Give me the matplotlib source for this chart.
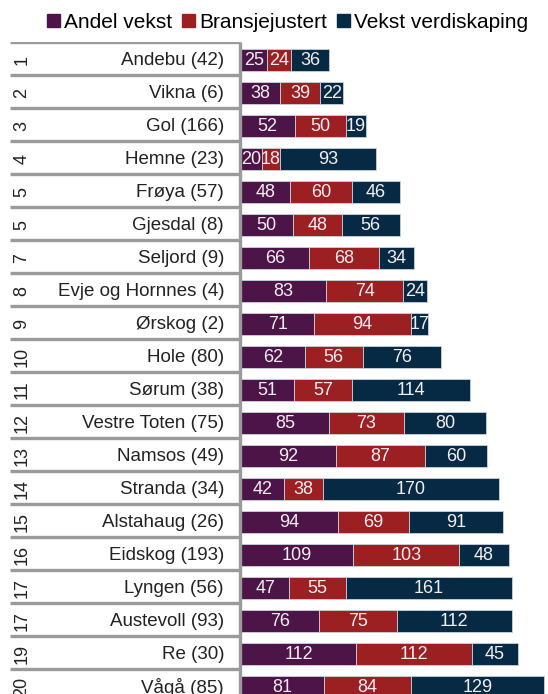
import matplotlib.pyplot as plt
from matplotlib.patches import Patch

plt.rcParams['font.family'] = ['Liberation Sans', 'DejaVu Sans']

ranks = ['1', '2', '3', '4', '5', '5', '7', '8', '9', '10',
         '11', '12', '13', '14', '15', '16', '17', '17', '19', '20']
names = ['Andebu (42)', 'Vikna (6)', 'Gol (166)', 'Hemne (23)', 'Frøya (57)',
         'Gjesdal (8)', 'Seljord (9)', 'Evje og Hornnes (4)', 'Ørskog (2)', 'Hole (80)',
         'Sørum (38)', 'Vestre Toten (75)', 'Namsos (49)', 'Stranda (34)', 'Alstahaug (26)',
         'Eidskog (193)', 'Lyngen (56)', 'Austevoll (93)', 'Re (30)', 'Vågå (85)']
andel = [25, 38, 52, 20, 48, 50, 66, 83, 71, 62, 51, 85, 92, 42, 94, 109, 47, 76, 112, 81]
bransje = [24, 39, 50, 18, 60, 48, 68, 74, 94, 56, 57, 73, 87, 38, 69, 103, 55, 75, 112, 84]
vekst = [36, 22, 19, 93, 46, 56, 34, 24, 17, 76, 114, 80, 60, 170, 91, 48, 161, 112, 45, 129]

series = [('Andel vekst', andel, '#4d1448'),
          ('Bransjejustert', bransje, '#9c1f22'),
          ('Vekst verdiskaping', vekst, '#062a43')]

W, H = 548, 694
fig = plt.figure(figsize=(W / 100, H / 100), dpi=100)

top_px = 42
pitch = 33
ymax = (H - top_px) / pitch
split = 241

ax = fig.add_axes([split / W, 0, 1 - split / W, (H - top_px) / H])
axl = fig.add_axes([0, 0, split / W, (H - top_px) / H])

n = len(names)
ys = [i + 0.55 for i in range(n)]

left = [0] * n
for label, vals, col in series:
    ax.barh(ys, vals, left=left, height=0.68, color=col,
            edgecolor='#c9d2dd', linewidth=0.6, label=label)
    for y, l, v in zip(ys, left, vals):
        ax.text(l + v / 2, y, str(v), ha='center', va='center',
                color='#f3eef3', fontsize=13)
    left = [a + b for a, b in zip(left, vals)]

ax.set_xlim(0, (W - split) / 1.03)
ax.set_ylim(ymax, 0)
ax.axis('off')

# left table with ranks and names
axl.set_xlim(0, split)
axl.set_ylim(ymax, 0)
axl.axis('off')
axl.hlines(range(n), 10, split - 1, color='#9a9a9a', linewidth=2.4)
axl.vlines(split - 1, 0, ymax, color='#9a9a9a', linewidth=2.4, clip_on=False)
for i in range(n):
    axl.text(22, i + 0.55, ranks[i], rotation=90, ha='center', va='center',
             fontsize=13, color='#222222')
    axl.text(224, i + 0.55, names[i], ha='right', va='center',
             fontsize=13.5, color='#222222')

handles = [Patch(color=c, label=l) for l, v, c in series]
fig.legend(handles=handles, loc='center', bbox_to_anchor=(0.525, 1 - 22 / H),
           ncol=3, frameon=False, fontsize=15, handlelength=0.6,
           handleheight=0.6, handletextpad=0.2, columnspacing=0.5,
           borderaxespad=0)

fig.savefig('out.png', dpi=100)
